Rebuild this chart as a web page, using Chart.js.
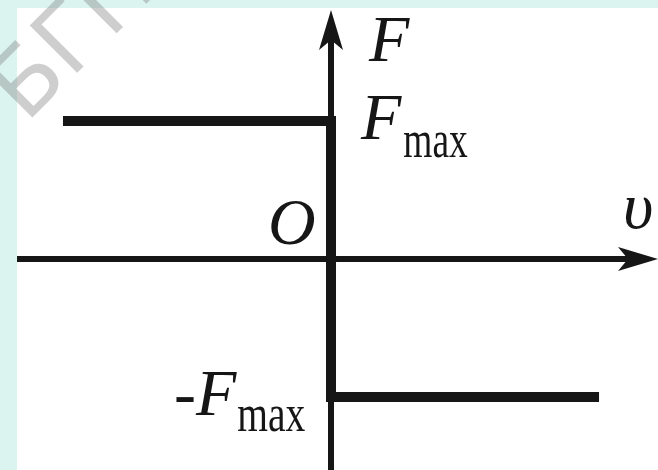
<!DOCTYPE html>
<html>
<head>
<meta charset="utf-8">
<script src="https://cdn.jsdelivr.net/npm/chart.js@4.4.1/dist/chart.umd.min.js"></script>
<style>
  html, body { margin: 0; padding: 0; background: #fff; }
  canvas { display: block; }
</style>
</head>
<body>
<canvas id="frictionChart" width="658" height="470"></canvas>
<script>
// dry friction: force jumps from +Fmax to -Fmax when velocity changes sign
const velocity = [-4, 0, 0, 4];
const force = [1, 1, -1, -1];

// visible window and where the two axes end (same units as the data)
const velocityWindow = [-4.94, 4.88];
const forceWindow = [-1.529, 1.877];
const velocityAxisEnds = [-4.686, 4.88];
const forceAxisEnds = [-1.529, 1.805];

// axis names and value labels
const axisNames = { force: 'F', velocity: 'υ', origin: 'O' };
const levelLabels = ['F', '-F'];
const levelSubscript = 'max';

const ink = '#161616';

function inkText(ctx, text, font, x, y, alignRight, sx) {
  // x/y give the ink box left (or right) edge and bottom edge
  ctx.save();
  ctx.font = font;
  const m = ctx.measureText(text);
  ctx.translate(x, y);
  ctx.scale(sx || 1, 1);
  const dx = alignRight ? -m.actualBoundingBoxRight : m.actualBoundingBoxLeft;
  ctx.fillText(text, dx, -m.actualBoundingBoxDescent);
  ctx.restore();
}

function arrowHead(ctx, tipX, tipY, dirX, dirY) {
  const len = 40, half = 12, notch = 30;
  const nx = -dirY, ny = dirX;
  ctx.beginPath();
  ctx.moveTo(tipX, tipY);
  ctx.lineTo(tipX - dirX * len + nx * half, tipY - dirY * len + ny * half);
  ctx.lineTo(tipX - dirX * notch, tipY - dirY * notch);
  ctx.lineTo(tipX - dirX * len - nx * half, tipY - dirY * len - ny * half);
  ctx.closePath();
  ctx.fill();
}

const pagePlugin = {
  id: 'page',
  beforeDraw(chart) {
    const { ctx, width, height } = chart;
    ctx.save();
    ctx.fillStyle = '#dcf4f0';
    ctx.fillRect(0, 0, width, height);
    ctx.fillStyle = '#ffffff';
    ctx.fillRect(17, 8, width - 17, height - 8);

    // faint watermark in the top-left corner
    ctx.font = '92px "DejaVu Sans"';
    ctx.fillStyle = 'rgba(120,120,120,0.36)';
    ctx.strokeStyle = 'rgba(120,120,120,0.36)';
    ctx.lineWidth = 3;
    ctx.lineJoin = 'round';
    ctx.translate(26, 124);
    ctx.rotate(-Math.PI / 4);
    ctx.fillText('БГПУ', 0, 0);
    ctx.restore();
  }
};

const axesPlugin = {
  id: 'axes',
  beforeDatasetsDraw(chart) {
    const { ctx, scales: { x, y } } = chart;
    const ox = x.getPixelForValue(0);
    const oy = y.getPixelForValue(0);
    const left = x.getPixelForValue(velocityAxisEnds[0]);
    const right = x.getPixelForValue(velocityAxisEnds[1]);
    const bottom = y.getPixelForValue(forceAxisEnds[0]);
    const top = y.getPixelForValue(forceAxisEnds[1]);
    ctx.save();
    ctx.strokeStyle = ink;
    ctx.fillStyle = ink;
    ctx.lineWidth = 6;
    ctx.beginPath();
    ctx.moveTo(left, oy);
    ctx.lineTo(right - 20, oy);
    ctx.moveTo(ox, bottom);
    ctx.lineTo(ox, top + 20);
    ctx.stroke();
    arrowHead(ctx, right, oy, 1, 0);
    arrowHead(ctx, ox, top, 0, -1);
    ctx.restore();
  },
  afterDraw(chart) {
    const { ctx, scales: { x, y } } = chart;
    const ox = x.getPixelForValue(0);
    const oy = y.getPixelForValue(0);
    const yHi = y.getPixelForValue(force[0]);
    const yLo = y.getPixelForValue(force[3]);
    const italic = 'italic 66px "Liberation Serif"';
    const sub = '52px "Liberation Serif"';
    ctx.save();
    ctx.fillStyle = ink;
    inkText(ctx, axisNames.force, italic, ox + 37, 61);
    inkText(ctx, axisNames.origin, italic, ox - 16, oy - 14, true);
    inkText(ctx, axisNames.velocity, italic, x.getPixelForValue(velocityAxisEnds[1]) - 33, oy - 30);
    inkText(ctx, levelLabels[0], italic, ox + 29, yHi + 18);
    inkText(ctx, levelSubscript, sub, ox + 73, yHi + 37, false, 0.72);
    inkText(ctx, levelLabels[1], italic, ox - 94, yLo + 18, true);
    inkText(ctx, levelSubscript, sub, ox - 93, yLo + 35, false, 0.76);
    ctx.restore();
  }
};

new Chart(document.getElementById('frictionChart'), {
  type: 'line',
  data: {
    labels: velocity,
    datasets: [{
      data: velocity.map((v, i) => ({ x: v, y: force[i] })),
      borderColor: ink,
      borderWidth: 10,
      borderJoinStyle: 'miter',
      borderCapStyle: 'butt',
      pointRadius: 0,
      tension: 0,
      fill: false,
      clip: false
    }]
  },
  options: {
    responsive: false,
    animation: false,
    devicePixelRatio: 1,
    layout: { padding: 0 },
    plugins: { legend: { display: false }, tooltip: { enabled: false } },
    scales: {
      x: { type: 'linear', display: false, min: velocityWindow[0], max: velocityWindow[1] },
      y: { type: 'linear', display: false, min: forceWindow[0], max: forceWindow[1] }
    }
  },
  plugins: [pagePlugin, axesPlugin]
});
</script>
</body>
</html>
